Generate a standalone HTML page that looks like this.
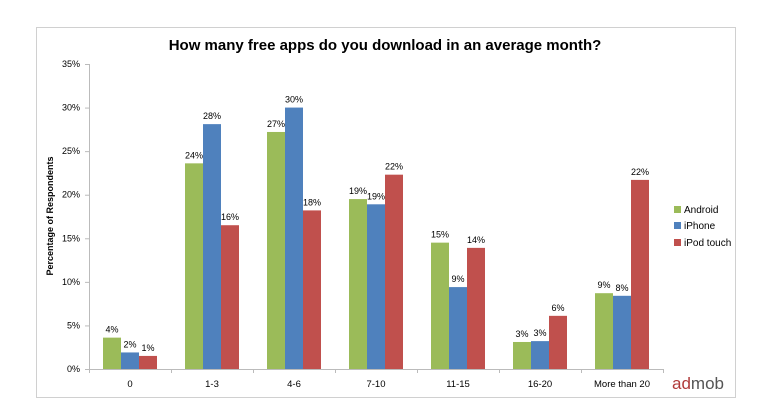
<!DOCTYPE html>
<html><head><meta charset="utf-8"><style>
body{margin:0;background:#fff;font-family:"Liberation Sans",sans-serif}
svg text{font-family:"Liberation Sans",sans-serif}
</style></head><body>
<svg width="771" height="415">
<rect x="36.5" y="27.5" width="699" height="370" fill="#fff" stroke="#d0d0d0"/>
<text x="385" y="50" font-size="15" font-weight="bold" text-anchor="middle">How many free apps do you download in an average month?</text>
<text transform="translate(53,216) rotate(-90)" font-size="9" font-weight="bold" text-anchor="middle">Percentage of Respondents</text>
<g id="axes"></g><g id="bars"></g>
<g>
<rect x="674" y="206" width="7" height="7" fill="#9bbb59"/><text x="684" y="213" font-size="10">Android</text>
<rect x="674" y="222" width="7" height="7" fill="#4f81bd"/><text x="684" y="229" font-size="10">iPhone</text>
<rect x="674" y="239" width="7" height="7" fill="#c0504d"/><text x="684" y="246" font-size="10">iPod touch</text>
</g>
<g><text x="672" y="389" font-size="17" fill="#b03a3a">ad<tspan fill="#555">mob</tspan></text></g>
</svg>
<script>
const categories=["0","1-3","4-6","7-10","11-15","16-20","More than 20"];
const android=[3.6,23.6,27.2,19.5,14.5,3.1,8.7];
const iphone=[1.9,28.1,30,18.9,9.4,3.2,8.4];
const ipod=[1.5,16.5,18.2,22.3,13.9,6.1,21.7];
const androidLabels=["4%","24%","27%","19%","15%","3%","9%"];
const iphoneLabels=["2%","28%","30%","19%","9%","3%","8%"];
const ipodLabels=["1%","16%","18%","22%","14%","6%","22%"];
const yTicks=[0,5,10,15,20,25,30,35];
const NS="http://www.w3.org/2000/svg";
const x0=89,x1=663,y0=369,yTop=64,yMax=35;
const band=(x1-x0)/categories.length;
const y=v=>y0-(v/yMax)*(y0-yTop);
const xc=i=>x0+band*(i+0.5);
function mk(tag,attrs,parent){const e=document.createElementNS(NS,tag);for(const k in attrs)e.setAttribute(k,attrs[k]);parent.appendChild(e);return e;}
const ax=document.getElementById('axes'),bg=document.getElementById('bars');
let l=mk('line',{x1:x0+.5,x2:x0+.5,y1:yTop,y2:y0,stroke:'#bbb'},ax);


l=mk('line',{x1:x0,x2:x1,y1:y0+.5,y2:y0+.5,stroke:'#bbb'},ax);


yTicks.forEach(t=>{
 mk('line',{x1:x0-4,x2:x0,y1:y(t)+.5,y2:y(t)+.5,stroke:'#bbb'},ax);
 const tx=mk('text',{x:x0-9,y:y(t)+3,'font-size':9,'text-anchor':'end'},ax);tx.textContent=t+'%';
 
 
});
for(let i=0;i<=categories.length;i++)mk('line',{x1:x0+band*i+.5,x2:x0+band*i+.5,y1:y0,y2:y0+4,stroke:'#bbb'},ax);
const series=[[android,androidLabels,'#9bbb59','android'],[iphone,iphoneLabels,'#4f81bd','iphone'],[ipod,ipodLabels,'#c0504d','ipod']];
const bw=18;
categories.forEach((c,i)=>{
 const t=mk('text',{x:xc(i),y:y0+18,'font-size':9.5,'text-anchor':'middle'},ax);t.textContent=c;
 
 
 series.forEach((s,j)=>{
  const bx=xc(i)-1.5*bw+j*bw;
  const r=mk('rect',{x:bx,y:y(s[0][i]),width:bw,height:y0-y(s[0][i]),fill:s[2]},bg);
  
  
  const lb=mk('text',{x:bx+bw/2,y:y(s[0][i])-5,'font-size':9,'text-anchor':'middle'},bg);lb.textContent=s[1][i];
  
  
 });
});
</script>
</body></html>
